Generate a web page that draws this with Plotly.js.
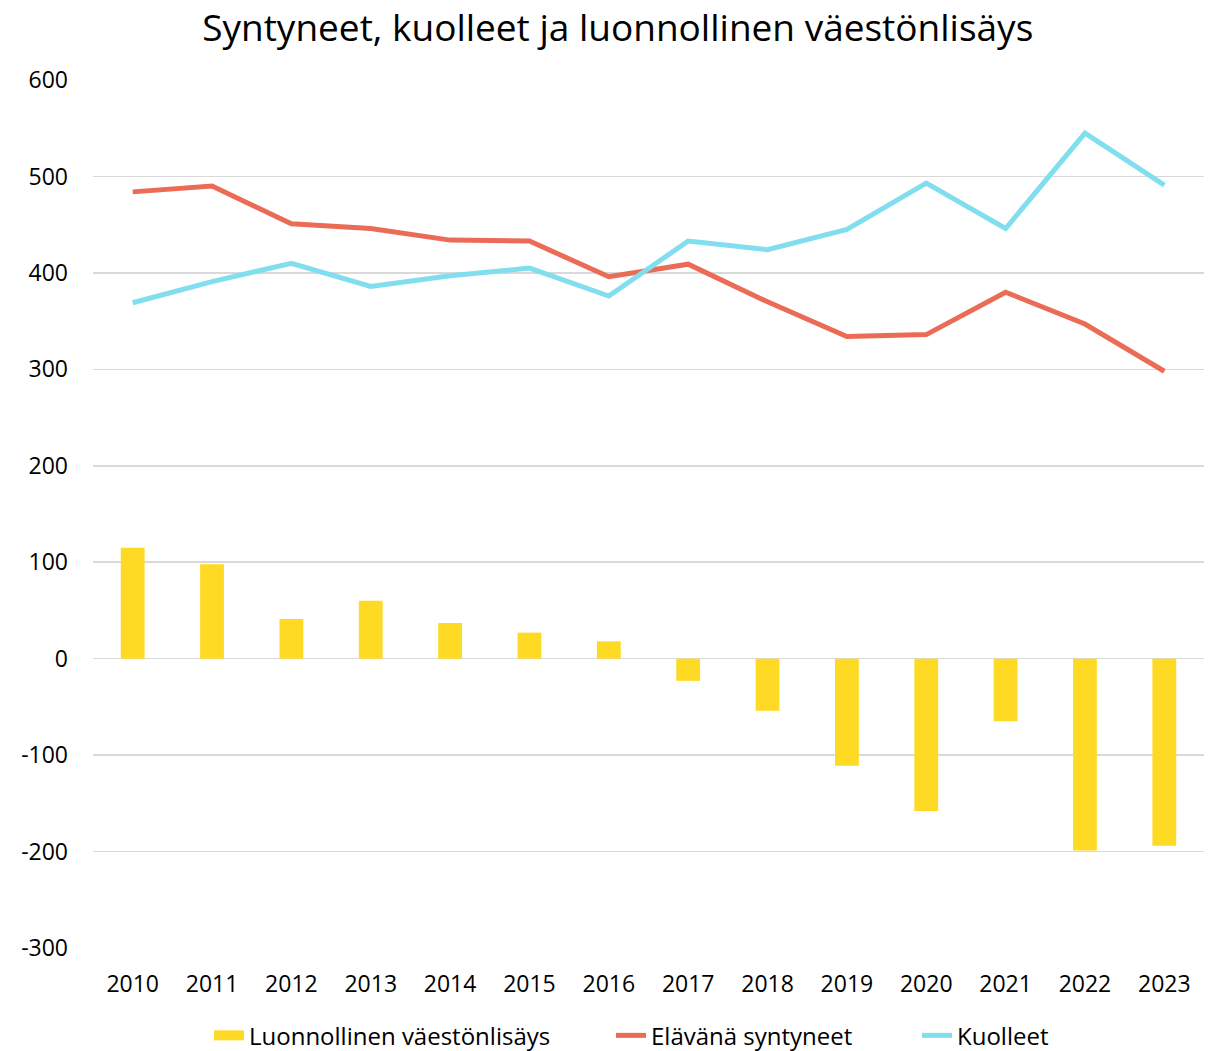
<!DOCTYPE html>
<html>
<head>
<meta charset="utf-8">
<script src="https://cdn.plot.ly/plotly-3.0.1.min.js"></script>
<style>html,body{margin:0;padding:0;background:#fff;}#chart{width:1216px;height:1051px;}</style>
</head>
<body>
<div id="chart"></div>
<script>
const years = ['2010','2011','2012','2013','2014','2015','2016','2017','2018','2019','2020','2021','2022','2023'];
const naturalIncrease = [115, 98, 41, 60, 37, 27, 18, -23, -54, -111, -158, -65, -199, -194];
const births = [484, 490, 451, 446, 434, 433, 396, 409, 370, 334, 336, 380, 347, 298];
const deaths = [369, 391, 410, 386, 397, 405, 376, 433, 424, 445, 493, 446, 545, 491];
const yTickVals = [-300, -200, -100, 0, 100, 200, 300, 400, 500, 600];
const yTickText = ['-300', '-200', '-100', '0', '100', '200', '300', '400', '500', '600'];
const seriesNames = ['Luonnollinen väestönlisäys', 'Elävänä syntyneet', 'Kuolleet'];
const chartTitle = 'Syntyneet, kuolleet ja luonnollinen väestönlisäys';

const font = 'Open Sans, Noto Sans, sans-serif';
const barColor = '#FFDA24';
const data = [
  {type:'bar', x: years, y: naturalIncrease, name: seriesNames[0], marker:{color:barColor}, width:0.3, showlegend:false},
  {type:'scatter', mode:'lines', x:[null], y:[null], name: seriesNames[0], line:{color:barColor, width:15}, hoverinfo:'skip', legend:'legend'},
  {type:'scatter', mode:'lines', x: years, y: births, name: seriesNames[1], line:{color:'#EB6C56', width:5}, legend:'legend2'},
  {type:'scatter', mode:'lines', x: years, y: deaths, name: seriesNames[2], line:{color:'#80DEEE', width:5}, legend:'legend3'}
];
const legBase = {orientation:'h', xref:'container', xanchor:'left', yref:'container', y:0.0145, yanchor:'middle', font:{size:24}, bgcolor:'rgba(0,0,0,0)'};
const layout = {
  width:1216, height:1051,
  margin:{l:93, r:12, t:80, b:103},
  paper_bgcolor:'#fff', plot_bgcolor:'#fff',
  font:{family:font, size:23, color:'#000'},
  title:{text:chartTitle, font:{family:font, size:37, color:'#000'}, x:0.508, xanchor:'center', yref:'container', y:0.973, yanchor:'middle'},
  xaxis:{type:'category', showgrid:false, zeroline:false, showline:false, ticks:'', tickfont:{size:23}, ticklabelstandoff:20, automargin:false},
  yaxis:{range:[-300,600], tickvals:yTickVals, ticktext:yTickText, showgrid:true, gridcolor:'#D9D9D9', gridwidth:1.5, automargin:false,
         zeroline:true, zerolinecolor:'#D9D9D9', zerolinewidth:1.5, showline:false, ticks:'', tickfont:{size:23}, ticklabelstandoff:24},
  showlegend:true,
  legend: Object.assign({}, legBase, {x:(195+14)/1216}),
  legend2: Object.assign({}, legBase, {x:(597+14)/1216}),
  legend3: Object.assign({}, legBase, {x:(903+14)/1216})
};
Plotly.newPlot('chart', data, layout, {displayModeBar:false, staticPlot:true});
</script>
</body>
</html>
